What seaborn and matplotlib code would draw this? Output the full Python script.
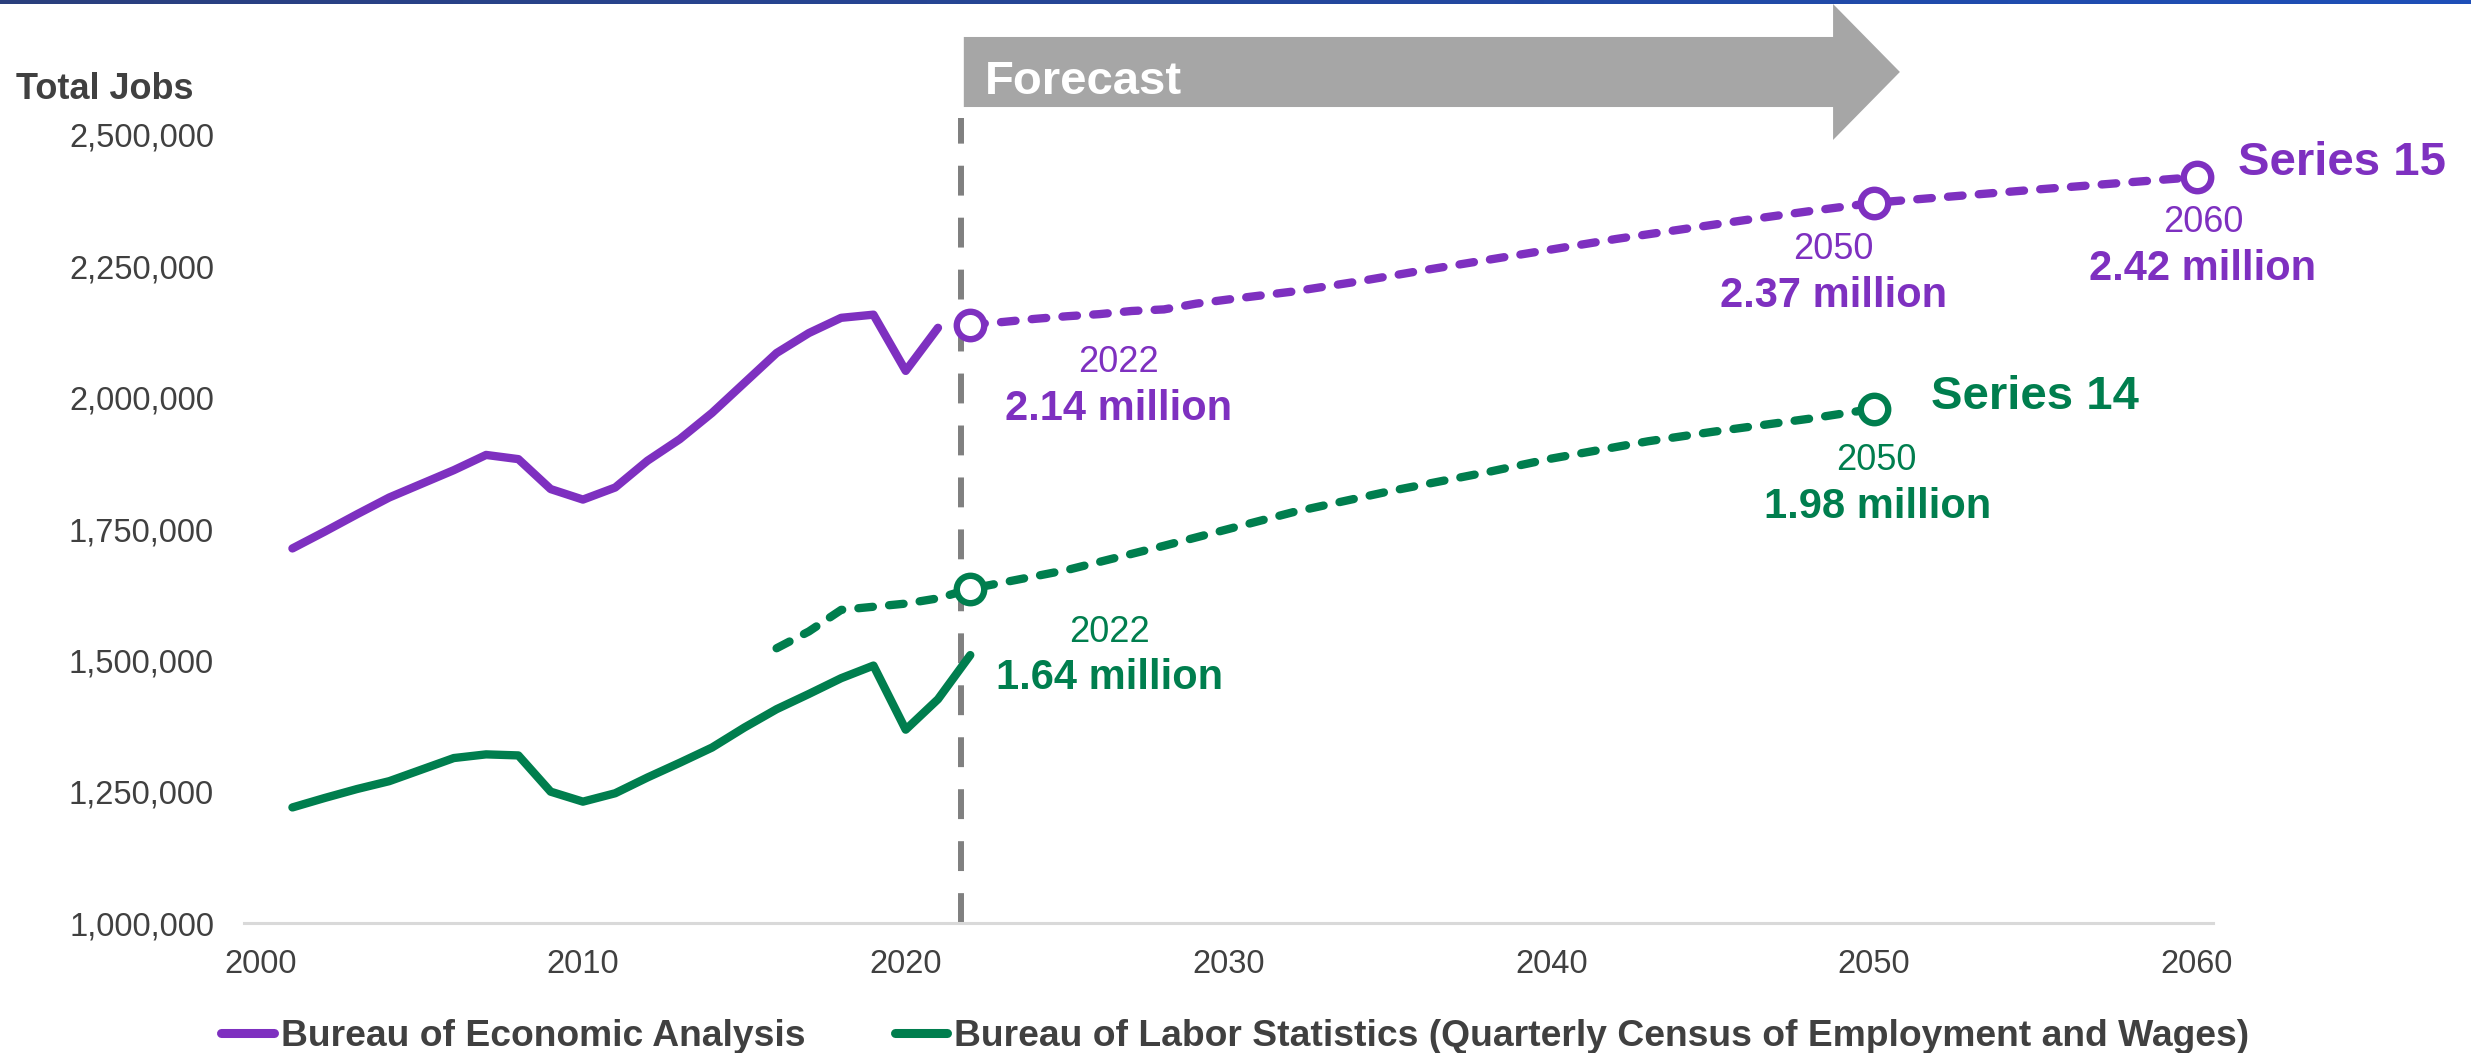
import numpy as np
import pandas as pd
import matplotlib
matplotlib.use("Agg")
import matplotlib.pyplot as plt
import matplotlib.transforms as mtransforms
from matplotlib.colors import LinearSegmentedColormap
from matplotlib.lines import Line2D
from matplotlib.patches import Polygon
from matplotlib.ticker import FuncFormatter, MultipleLocator
import seaborn as sns

# ---- data (thousands of jobs) ----
bea_years = list(range(2001, 2022))
bea_jobs = [1713, 1745, 1778, 1810, 1836, 1862, 1891, 1883, 1826, 1806, 1829,
            1880, 1921, 1971, 2028, 2085, 2123, 2152, 2158, 2051, 2133]

bls_years = list(range(2001, 2023))
bls_jobs = [1220, 1238, 1255, 1270, 1292, 1314, 1321, 1319, 1250, 1231, 1247,
            1277, 1305, 1334, 1372, 1407, 1436, 1466, 1490, 1368, 1426, 1510]

s15_years = [2022, 2023, 2024, 2025, 2026, 2027, 2028, 2029, 2030, 2032, 2034,
             2036, 2038, 2040, 2042, 2044, 2046, 2048, 2050, 2055, 2060]
s15_jobs = [2139, 2144, 2150, 2155, 2159, 2165, 2168, 2179, 2187, 2202, 2221,
            2242, 2262, 2282, 2302, 2320, 2338, 2355, 2371, 2396, 2420]

s14_years = [2016, 2017, 2018, 2019, 2020, 2021, 2022, 2025, 2028, 2030, 2032,
             2035, 2038, 2040, 2043, 2045, 2048, 2050]
s14_jobs = [1523, 1555, 1596, 1602, 1608, 1618, 1636, 1672, 1718, 1750, 1782,
            1822, 1858, 1884, 1917, 1935, 1960, 1979]

s15_marked = [2022, 2050, 2060]
s14_marked = [2022, 2050]

x_ticks = [2000, 2010, 2020, 2030, 2040, 2050, 2060]
y_ticks = [1000000, 1250000, 1500000, 1750000, 2000000, 2250000, 2500000]
legend_labels = ["Bureau of Economic Analysis",
                 "Bureau of Labor Statistics (Quarterly Census of Employment and Wages)"]
forecast_start = 2021.7

# ---- style ----
PURPLE = "#7E30C0"
GREEN = "#007E4E"
GREY_TXT = "#404040"
LW = 6.0

sns.set_style("white")
plt.rcParams["font.family"] = ["Liberation Sans", "DejaVu Sans"]

def frame(years, jobs):
    return pd.DataFrame({"year": years, "jobs": np.array(jobs) * 1000})

df_bea = frame(bea_years, bea_jobs)
df_bls = frame(bls_years, bls_jobs)
df_s15 = frame(s15_years, s15_jobs)
df_s14 = frame(s14_years, s14_jobs)

fig = plt.figure(figsize=(24.71, 10.53), dpi=100)
ax = fig.add_axes([244 / 2471, 1 - 923 / 1053, 1969 / 2471, 788 / 1053])

# top blue rule
bar_ax = fig.add_axes([0, 1 - 4 / 1053, 1, 4 / 1053])
bar_cmap = LinearSegmentedColormap.from_list("bar", ["#2b3f7d", "#1e4fb8"])
bar_ax.imshow(np.linspace(0, 1, 256)[None, :], aspect="auto", cmap=bar_cmap)
bar_ax.axis("off")

# history lines
sns.lineplot(data=df_bea, x="year", y="jobs", color=PURPLE, linewidth=LW,
             solid_capstyle="round", solid_joinstyle="round", ax=ax, zorder=3)
sns.lineplot(data=df_bls, x="year", y="jobs", color=GREEN, linewidth=LW,
             solid_capstyle="round", solid_joinstyle="round", ax=ax, zorder=3)

# projections
for df, col in [(df_s15, PURPLE), (df_s14, GREEN)]:
    sns.lineplot(data=df, x="year", y="jobs", color=col, linewidth=LW,
                 linestyle=(0, (1.75, 1.95)), dash_capstyle="round",
                 dash_joinstyle="round", ax=ax, zorder=3)

# forecast divider
ax.axvline(forecast_start, ymin=0, ymax=(923 - 118) / 788, color="#808080",
           lw=4.3, dashes=(5.0, 3.7), clip_on=False, zorder=2)

# markers + labels
series_marks = [
    (df_s15, s15_marked, PURPLE,
     [(107, -34), (-29.5, -40.7), (4.3, -39.4)],
     [(107, -69), (-29.5, -75), (4.3, -74)]),
    (df_s14, s14_marked, GREEN,
     [(100, -38), (1.4, -44)],
     [(100.5, -72), (2.2, -79)]),
]
for df, marked, col, yr_offs, val_offs in series_marks:
    pts = df[df["year"].isin(marked)].reset_index(drop=True)
    sns.scatterplot(data=pts, x="year", y="jobs", s=390, color="white",
                    edgecolor=col, linewidth=4.6, ax=ax, zorder=5, clip_on=False)
    for i, row in pts.iterrows():
        ax.annotate(f"{int(row['year'])}", xy=(row["year"], row["jobs"]),
                    xytext=yr_offs[i], textcoords="offset points",
                    ha="center", va="baseline", fontsize=26, color=col,
                    annotation_clip=False)
        ax.annotate(f"{row['jobs'] / 1e6:.2f} million", xy=(row["year"], row["jobs"]),
                    xytext=val_offs[i], textcoords="offset points",
                    ha="center", va="baseline", fontsize=30, fontweight="bold",
                    color=col, annotation_clip=False)

end15 = df_s15.iloc[-1]
ax.annotate("Series 15", xy=(end15["year"], end15["jobs"]), xytext=(29.5, 1.4),
            textcoords="offset points", ha="left", va="baseline", fontsize=34,
            fontweight="bold", color=PURPLE, annotation_clip=False)
end14 = df_s14.iloc[-1]
ax.annotate("Series 14", xy=(end14["year"], end14["jobs"]), xytext=(41, -0.4),
            textcoords="offset points", ha="left", va="baseline", fontsize=34,
            fontweight="bold", color=GREEN, annotation_clip=False)

# forecast arrow
trans = mtransforms.blended_transform_factory(ax.transData, ax.transAxes)
arrow = Polygon([(2021.8, 1.0355), (2048.73, 1.0355), (2048.73, 0.9937),
                 (2050.8, 1.080), (2048.73, 1.1662), (2048.73, 1.1244),
                 (2021.8, 1.1244)], closed=True, transform=trans,
                facecolor="#a6a6a6", edgecolor="none", clip_on=False, zorder=1)
ax.add_patch(arrow)
ax.text(2022.45, 1.052, "Forecast", transform=trans, ha="left", va="baseline",
        fontsize=34, fontweight="bold", color="white", zorder=2)

# axes
ax.set_xlim(1999.5, 2060.5)
ax.set_ylim(1000000, 2500000)
ax.set_xticks(x_ticks)
ax.set_yticks(y_ticks)
ax.xaxis.set_minor_locator(MultipleLocator(1))
ax.yaxis.set_major_formatter(FuncFormatter(lambda v, p: f"{v:,.0f}"))
ax.set_xlabel("")
ax.set_ylabel("")
for side in ["top", "right", "left"]:
    ax.spines[side].set_visible(False)
ax.spines["bottom"].set_color("#d9d9d9")
ax.spines["bottom"].set_linewidth(2.2)
ax.tick_params(axis="x", which="both", direction="in", length=4.3, width=1.1,
               color="#d9d9d9", pad=18.5, labelsize=23.5, labelcolor=GREY_TXT)
ax.tick_params(axis="y", length=0, pad=21.6, labelsize=23.5, labelcolor=GREY_TXT)
ax.grid(False)
if ax.get_legend() is not None:
    ax.get_legend().remove()

fig.text(16 / 2471, 1 - 99 / 1053, "Total Jobs", ha="left", va="baseline",
         fontsize=26, fontweight="bold", color=GREY_TXT)

handles = [Line2D([0], [0], color=PURPLE, lw=6.5, solid_capstyle="round"),
           Line2D([0], [0], color=GREEN, lw=6.5, solid_capstyle="round")]
fig.legend(handles, legend_labels, loc="center", bbox_to_anchor=(0.5, 0.0161),
           ncol=2, frameon=False, prop={"weight": "bold", "size": 26.8},
           labelcolor=GREY_TXT, handlelength=1.4, handletextpad=0.2,
           columnspacing=2.4, borderpad=0)

fig.savefig("out.png", dpi=100)
